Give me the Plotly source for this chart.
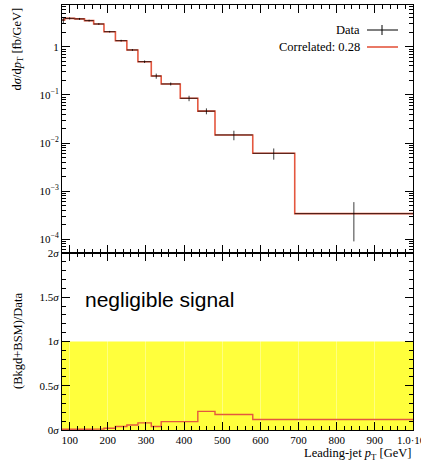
import plotly.graph_objects as go

# ---- data ----
bin_edges = [80, 87, 113, 139, 163, 190, 220, 250, 279, 314, 340, 390, 436, 481, 580, 690, 1000]
data_values = [3.6, 3.9, 3.8, 3.5, 2.98, 2.06, 1.34, 0.86, 0.49, 0.247, 0.169, 0.085, 0.046, 0.0147, 0.0061, 3.4e-4]
data_errors = [0.5, 0.2, 0.18, 0.15, 0.12, 0.08, 0.06, 0.04, 0.03, 0.03, 0.012, 0.011, 0.0065, 0.0033, 0.0016, 2.5e-4]
model_values = [3.6, 3.9, 3.8, 3.5, 2.98, 2.06, 1.34, 0.86, 0.49, 0.247, 0.169, 0.085, 0.046, 0.0147, 0.0061, 3.4e-4]
ratio_sigma = [0.008, 0.008, 0.008, 0.008, 0.01, 0.02, 0.04, 0.057, 0.08, 0.04, 0.095, 0.095, 0.21, 0.175, 0.118, 0.118]

x_tick_vals = [100, 200, 300, 400, 500, 600, 700, 800, 900, 1000]
x_tick_text = ["100", "200", "300", "400", "500", "600", "700", "800", "900", "1.0·10<sup>3</sup>"]
y_tick_vals = [1e-4, 1e-3, 1e-2, 1e-1, 1]
y_tick_text = ["10<sup>−4</sup>", "10<sup>−3</sup>", "10<sup>−2</sup>", "10<sup>−1</sup>", "1"]
r_tick_vals = [0, 0.5, 1, 1.5, 2]
r_tick_text = ["0<i>σ</i>", "0.5<i>σ</i>", "1<i>σ</i>", "1.5<i>σ</i>", "2<i>σ</i>"]
legend_labels = ["Data", "Correlated: 0.28"]

RED = "#e4573f"
SERIF = "Liberation Serif"

centers = [(a + b) / 2 for a, b in zip(bin_edges[:-1], bin_edges[1:])]
halfw = [(b - a) / 2 for a, b in zip(bin_edges[:-1], bin_edges[1:])]

fig = go.Figure()

# model histogram (top)
fig.add_trace(go.Scatter(
    x=bin_edges, y=model_values + [model_values[-1]], mode="lines",
    line=dict(color=RED, width=1.6, shape="hv"), xaxis="x", yaxis="y",
    showlegend=False, hoverinfo="skip"))

# data points with bin-width horizontal bars
fig.add_trace(go.Scatter(
    x=centers, y=data_values, mode="markers",
    marker=dict(size=0.1, color="black"),
    error_x=dict(type="data", array=halfw, width=0, thickness=0.9, color="rgba(0,0,0,0.8)"),
    error_y=dict(type="data", array=data_errors, width=0, thickness=0.9, color="rgba(0,0,0,0.85)"),
    xaxis="x", yaxis="y", showlegend=False, hoverinfo="skip"))

# ratio histogram (bottom)
fig.add_trace(go.Scatter(
    x=bin_edges, y=ratio_sigma + [ratio_sigma[-1]], mode="lines",
    line=dict(color=RED, width=1.4, shape="hv"), xaxis="x2", yaxis="y2",
    showlegend=False, hoverinfo="skip"))

# 1 sigma band
fig.add_shape(type="rect", xref="x2 domain", yref="y2", x0=0, x1=1, y0=0, y1=1,
              fillcolor="#ffff3c", line=dict(width=0), layer="below")

split = 177 / 425
tickfont = dict(family=SERIF, size=11, color="black")

common_x = dict(range=[80, 1000], showline=True, linecolor="black", linewidth=1,
                mirror="allticks", ticks="inside", ticklen=8, tickcolor="black",
                tickvals=x_tick_vals, zeroline=False, automargin=False,
                minor=dict(ticks="inside", ticklen=4, dtick=20, tick0=0, tickcolor="black"))

fig.update_layout(
    width=421, height=462, autosize=False,
    margin=dict(l=62, r=8, t=5, b=32),
    paper_bgcolor="white", plot_bgcolor="rgba(0,0,0,0)",
    showlegend=False,
    xaxis=dict(**common_x, domain=[0, 1], anchor="y", showticklabels=False, showgrid=False),
    xaxis2=dict(**common_x, domain=[0, 1], anchor="y2", ticktext=x_tick_text,
                tickfont=tickfont, ticklabeloverflow="allow",
                showgrid=True, gridcolor="rgba(255,255,255,0.35)", gridwidth=1),
    yaxis=dict(type="log", domain=[split, 1], anchor="x", automargin=False,
               range=[-4.287, 0.869], showline=True, linecolor="black", linewidth=1,
               mirror="allticks", ticks="inside", ticklen=8, tickcolor="black",
               tickvals=y_tick_vals, ticktext=y_tick_text, tickfont=tickfont,
               showgrid=False, zeroline=False,
               minor=dict(ticks="inside", ticklen=4, tickcolor="black",
                          tickvals=[k * 10 ** e for e in range(-5, 1) for k in range(2, 10)])),
    yaxis2=dict(domain=[0, split], anchor="x2", range=[0, 2], automargin=False,
                showline=True, linecolor="black", linewidth=1,
                mirror="allticks", ticks="inside", ticklen=8, tickcolor="black",
                tickvals=r_tick_vals, ticktext=r_tick_text, tickfont=tickfont,
                showgrid=False, zeroline=False,
                minor=dict(ticks="inside", ticklen=4, dtick=0.1, tick0=0, tickcolor="black")),
)

def px_x(px):
    return (px - 62) / 351

def px_y(py):
    return (430 - py) / 425

ann = []
# axis titles
ann.append(dict(text="d<i>σ</i>/d<i>p</i><sub>T</sub> [fb/GeV]", textangle=-90,
                x=px_x(18), y=px_y(6), xanchor="center", yanchor="top"))
ann.append(dict(text="(Bkgd+BSM)/Data", textangle=-90,
                x=px_x(18), y=px_y(341), xanchor="center", yanchor="middle"))
ann.append(dict(text="Leading-jet <i>p</i><sub>T</sub> [GeV]",
                x=px_x(413), y=px_y(454), xanchor="right", yanchor="middle"))
# legend text
ann.append(dict(text=legend_labels[0], x=px_x(362), y=px_y(30), xanchor="right", yanchor="middle"))
ann.append(dict(text=legend_labels[1], x=px_x(362), y=px_y(47), xanchor="right", yanchor="middle"))
for a in ann:
    a.update(xref="paper", yref="paper", showarrow=False,
             font=dict(family=SERIF, size=12.5, color="black"))
# big annotation
ann.append(dict(text="negligible signal", xref="paper", yref="paper", showarrow=False,
                x=px_x(83), y=px_y(299), xanchor="left", yanchor="middle",
                font=dict(family="Liberation Sans", size=21, color="black")))
fig.update_layout(annotations=ann)

# legend samples
fig.add_shape(type="line", xref="paper", yref="paper", x0=px_x(367), x1=px_x(398),
              y0=px_y(30), y1=px_y(30), line=dict(color="black", width=1))
fig.add_shape(type="line", xref="paper", yref="paper", x0=px_x(382), x1=px_x(382),
              y0=px_y(25), y1=px_y(35), line=dict(color="black", width=1))
fig.add_shape(type="line", xref="paper", yref="paper", x0=px_x(367), x1=px_x(398),
              y0=px_y(47), y1=px_y(47), line=dict(color=RED, width=1.6))

fig.write_html("out.html")
